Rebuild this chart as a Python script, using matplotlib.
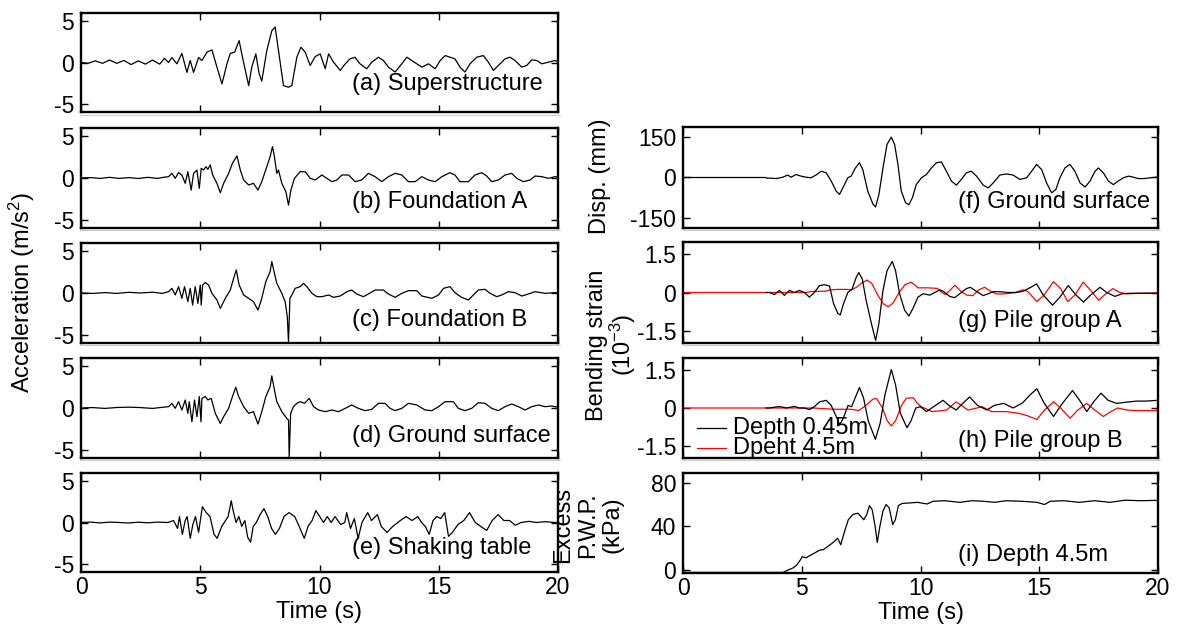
import matplotlib
matplotlib.use("Agg")
import matplotlib.pyplot as plt
from matplotlib.lines import Line2D

plt.rcParams['font.family'] = ['Liberation Sans', 'DejaVu Sans']
plt.rcParams['mathtext.fontset'] = 'custom'
plt.rcParams['mathtext.rm'] = 'Liberation Sans'
plt.rcParams['mathtext.it'] = 'Liberation Sans:italic'
plt.rcParams['axes.unicode_minus'] = False

# ---------------- data (time [s], value) ----------------
superstructure = [(0, 0), (0.3, -0.1), (0.6, 0.2), (0.9, -0.1), (1.2, 0.3), (1.5, -0.1), (1.8, 0.25),
    (2.1, -0.25), (2.4, 0.2), (2.7, -0.2), (3.0, 0.3), (3.3, -0.2), (3.5, 0.5), (3.67, 0.0),
    (3.81, 0.6), (4.02, -0.16), (4.23, 1.1), (4.44, -1.2), (4.58, 0.24), (4.72, -1.2), (4.93, 0.6),
    (5.07, 0.24), (5.28, 1.25), (5.49, 1.53), (5.70, -0.56), (5.91, -2.6), (6.12, -0.16), (6.26, 1.1),
    (6.44, 1.25), (6.63, 2.65), (6.77, 0.64), (7.03, -2.8), (7.16, -0.56), (7.33, 1.04), (7.47, -1.36),
    (7.58, -2.25), (7.79, 1.45), (8.00, 3.85), (8.14, 4.3), (8.28, 1.45), (8.49, -2.8), (8.70, -3.0),
    (8.84, -2.8), (9.05, 0.64), (9.22, 1.85), (9.40, 1.25), (9.61, -0.36), (9.82, 0.72), (10.03, 1.04),
    (10.24, -0.76), (10.38, 1.04), (10.59, 0.04), (10.87, -0.96), (11.08, -0.16), (11.28, 0.44),
    (11.49, 0.64), (11.70, -0.16), (11.98, -0.76), (12.19, 0.04), (12.47, 0.64), (12.68, 0.24),
    (12.89, -0.56), (13.17, -1.16), (13.45, -0.16), (13.66, 0.64), (13.87, 0.24), (14.08, -0.16),
    (14.29, -0.56), (14.57, -0.16), (14.85, -0.76), (15.06, 0.24), (15.27, 0.84), (15.47, 0.64),
    (15.68, 0.44), (15.89, -0.56), (16.10, -1.16), (16.31, -0.16), (16.59, 0.64), (16.87, 0.84),
    (17.08, 0.04), (17.29, -0.96), (17.50, -0.36), (17.78, 0.44), (17.99, 0.64), (18.20, 0.24),
    (18.48, -0.56), (18.69, -0.36), (18.90, 0.32), (19.11, 0.24), (19.32, -0.16), (19.60, 0.04),
    (19.87, 0.24), (20.0, 0.1)]

foundation_a = [(0, 0), (0.4, 0.05), (0.8, -0.05), (1.2, 0.08), (1.6, -0.05), (2.0, 0.05), (2.4, -0.06),
    (2.8, 0.08), (3.2, -0.05), (3.5, 0.1), (3.67, 0.16), (3.81, 0.56), (3.95, -0.04), (4.09, 0.64),
    (4.23, 0.36), (4.37, -0.64), (4.48, 0.76), (4.62, -1.45), (4.72, 0.56), (4.86, 0.96), (4.96, -1.25),
    (5.04, 1.16), (5.14, 0.96), (5.24, 1.36), (5.32, 1.04), (5.42, 1.57), (5.52, 0.36), (5.70, -0.64),
    (5.84, -1.77), (5.98, -0.64), (6.19, 0.56), (6.35, 1.77), (6.54, 2.65), (6.68, 0.96), (6.82, -0.24),
    (7.03, -0.84), (7.23, -0.64), (7.42, -1.45), (7.58, -0.44), (7.79, 1.36), (7.93, 2.57), (8.03, 3.77),
    (8.11, 2.57), (8.21, 0.56), (8.28, 0.96), (8.42, -0.64), (8.59, -1.65), (8.70, -3.25), (8.80, -1.45),
    (8.95, -0.04), (9.19, 0.76), (9.40, 0.76), (9.61, -0.04), (9.82, -0.24), (10.10, 0.36),
    (10.31, -0.04), (10.52, -0.44), (10.73, -0.24), (10.94, 0.36), (11.22, 0.36), (11.49, -0.44),
    (11.77, -0.24), (12.05, 0.56), (12.33, 0.16), (12.61, -0.44), (12.89, 0.16), (13.17, 0.56),
    (13.45, 0.36), (13.73, -0.44), (14.01, -0.44), (14.29, 0.16), (14.57, -0.24), (14.85, -0.44),
    (15.13, 0.16), (15.47, 0.64), (15.68, 0.36), (15.89, -0.44), (16.24, -0.44), (16.52, 0.36),
    (16.80, 0.64), (17.01, 0.24), (17.22, -0.44), (17.50, -0.24), (17.78, 0.36), (18.06, 0.56),
    (18.27, -0.04), (18.55, -0.44), (18.83, -0.24), (19.04, 0.24), (19.32, 0.16), (19.60, -0.04),
    (19.87, 0.16), (20.0, 0.1)]

foundation_b = [(0, 0), (0.5, -0.05), (1.0, 0.05), (1.5, -0.05), (2.0, 0.08), (2.5, 0.0), (3.0, 0.1),
    (3.4, -0.05), (3.67, 0.16), (3.81, 0.56), (3.95, -0.24), (4.09, 0.76), (4.23, -0.64), (4.34, 0.76),
    (4.48, -1.04), (4.58, 0.56), (4.68, -1.45), (4.79, 0.76), (4.90, -1.25), (5.00, 0.96), (5.04, -1.45),
    (5.10, 0.96), (5.21, 1.25), (5.35, 0.96), (5.49, -0.04), (5.70, -0.84), (5.84, -1.85), (6.05, -0.64),
    (6.26, 0.36), (6.40, 1.77), (6.51, 2.77), (6.63, 0.96), (6.82, -0.24), (7.03, -0.64), (7.23, -1.04),
    (7.42, -2.05), (7.56, -0.84), (7.75, 1.37), (7.93, 2.57), (8.00, 3.78), (8.11, 2.37), (8.21, 1.16),
    (8.42, -0.04), (8.56, -1.04), (8.65, -2.85), (8.70, -5.9), (8.76, -0.64), (8.84, -0.24), (8.98, 0.56),
    (9.19, 0.76), (9.33, 1.16), (9.47, 0.76), (9.68, -0.04), (9.89, -0.44), (10.10, -0.44),
    (10.38, -0.24), (10.59, -0.52), (10.87, -0.36), (11.15, 0.16), (11.35, 0.36), (11.56, -0.12),
    (11.84, -0.44), (12.05, -0.12), (12.33, 0.36), (12.68, 0.36), (12.89, -0.12), (13.17, -0.52),
    (13.45, -0.04), (13.73, 0.28), (14.08, 0.28), (14.29, -0.36), (14.71, -0.64), (14.99, -0.24),
    (15.20, 0.56), (15.47, 0.76), (15.68, 0.04), (15.96, -0.52), (16.24, -0.84), (16.45, -0.24),
    (16.66, 0.36), (16.94, 0.44), (17.15, -0.04), (17.43, -0.44), (17.64, -0.24), (17.92, 0.16),
    (18.20, 0.04), (18.48, -0.36), (18.76, -0.12), (19.04, 0.16), (19.46, -0.04), (19.87, 0.04),
    (20.0, 0.0)]

ground_acc = [(0, 0), (0.5, 0.05), (1.0, -0.05), (1.5, 0.06), (2.0, 0.1), (2.5, 0.05), (3.0, -0.05),
    (3.4, 0.08), (3.67, 0.16), (3.81, 0.56), (3.95, -0.04), (4.09, 0.76), (4.23, -0.24), (4.37, 0.96),
    (4.48, -0.64), (4.54, 0.76), (4.65, -1.65), (4.76, 0.96), (4.86, -1.04), (4.96, 1.37), (5.03, -1.65),
    (5.07, 1.16), (5.21, 1.37), (5.32, 0.96), (5.46, 1.16), (5.63, -0.64), (5.84, -1.85), (5.98, -1.04),
    (6.19, -0.04), (6.35, 1.37), (6.49, 2.49), (6.61, 1.37), (6.82, 0.16), (7.03, -0.64), (7.23, -0.44),
    (7.42, -1.93), (7.56, -0.64), (7.75, 1.37), (7.93, 2.57), (8.00, 3.86), (8.11, 2.17), (8.21, 0.76),
    (8.42, -0.44), (8.63, -1.25), (8.70, -1.45), (8.73, -5.9), (8.79, -0.64), (8.91, 0.16), (9.05, 0.56),
    (9.19, 0.76), (9.37, 0.56), (9.57, 1.16), (9.75, 0.16), (9.96, -0.24), (10.24, -0.44),
    (10.52, -0.24), (10.80, -0.44), (11.08, -0.04), (11.35, 0.36), (11.63, -0.04), (11.91, -0.32),
    (12.19, -0.16), (12.47, 0.56), (12.75, 0.56), (12.96, -0.04), (13.17, -0.32), (13.45, -0.04),
    (13.73, 0.56), (14.08, 0.36), (14.43, -0.24), (14.71, -0.32), (14.99, 0.16), (15.27, 0.76),
    (15.61, 0.76), (15.82, -0.04), (16.10, -0.32), (16.38, -0.04), (16.66, 0.64), (16.94, 0.56),
    (17.22, -0.04), (17.50, -0.32), (17.78, 0.16), (18.06, 0.48), (18.34, 0.16), (18.62, -0.24),
    (18.90, 0.16), (19.18, 0.36), (19.46, 0.16), (19.74, 0.24), (19.87, 0.16), (20.0, 0.1)]

shaking_table = [(0, 0), (0.4, 0.05), (0.8, -0.05), (1.2, 0.05), (1.6, 0.0), (2.0, -0.06), (2.4, 0.04),
    (2.8, -0.04), (3.2, 0.05), (3.64, 0.0), (3.88, 0.24), (4.05, -0.72), (4.13, 0.72), (4.25, -1.44),
    (4.37, 0.24), (4.45, 0.72), (4.58, -1.92), (4.69, -0.24), (4.80, 0.72), (4.93, -1.2), (5.09, 1.92),
    (5.25, 1.2), (5.41, 0.72), (5.58, -1.44), (5.71, -1.92), (5.90, -0.48), (6.06, 0.24), (6.17, 0.72),
    (6.30, 2.64), (6.38, 1.44), (6.50, 0.0), (6.62, 0.72), (6.74, -0.48), (6.87, 0.24), (6.99, -1.8),
    (7.11, -2.4), (7.22, -0.48), (7.35, 0.0), (7.51, 0.96), (7.67, 1.68), (7.83, 0.72), (7.99, -0.72),
    (8.15, -1.44), (8.32, -0.72), (8.51, 0.72), (8.72, 1.2), (8.96, 0.72), (9.15, -0.48), (9.36, -1.92),
    (9.52, -0.48), (9.69, 0.24), (9.85, 1.44), (10.01, 0.72), (10.17, 0.0), (10.33, 0.72), (10.49, 0.0),
    (10.65, 0.72), (10.89, -0.24), (11.06, 0.0), (11.14, 1.2), (11.30, -0.72), (11.46, 0.48),
    (11.62, -1.92), (11.78, 0.0), (12.02, 1.2), (12.18, 0.24), (12.43, 0.96), (12.59, -0.48),
    (12.83, -1.2), (13.07, -0.48), (13.39, 0.24), (13.63, 0.72), (13.88, 0.24), (14.12, 0.72),
    (14.28, 0.0), (14.44, -0.48), (14.60, -1.44), (14.76, 0.24), (14.92, 0.72), (15.08, 0.48),
    (15.25, 1.2), (15.41, -1.68), (15.57, -1.2), (15.81, -0.24), (16.05, 0.24), (16.29, 1.2),
    (16.53, 0.0), (16.76, -0.48), (17.01, -0.96), (17.24, 0.24), (17.49, 0.96), (17.73, 0.24),
    (17.97, 0.24), (18.21, -0.34), (18.45, 0.0), (18.78, 0.14), (19.10, 0.0), (19.42, 0.1),
    (19.9, 0.0), (20.0, 0.0)]

ground_disp = [(0, 0), (3.5, 0), (3.55, -3), (3.64, -2), (3.92, -4), (4.20, 1), (4.41, 9), (4.55, 1),
    (4.76, 11), (4.97, 5), (5.18, 1), (5.39, -1), (5.60, 9), (5.82, 23), (6.03, 17), (6.24, -13),
    (6.45, -50), (6.59, -62), (6.73, -38), (6.94, -1), (7.08, 5), (7.26, 35), (7.43, 54), (7.57, 29),
    (7.78, -50), (8.00, -98), (8.11, -108), (8.25, -62), (8.42, 35), (8.59, 121), (8.77, 148),
    (8.91, 121), (9.05, 48), (9.19, -50), (9.37, -92), (9.51, -100), (9.66, -74), (9.82, -26),
    (10.04, -1), (10.25, 11), (10.46, 35), (10.67, 54), (10.88, 57), (11.09, 23), (11.30, -13),
    (11.51, -28), (11.72, -7), (11.93, 17), (12.14, 23), (12.36, 5), (12.64, -28), (12.85, -38),
    (13.06, -20), (13.34, 9), (13.62, 13), (13.90, 9), (14.18, -7), (14.47, -1), (14.68, 23),
    (14.89, 48), (15.10, 29), (15.31, -20), (15.52, -56), (15.70, -44), (15.87, -1), (16.08, 35),
    (16.29, 48), (16.50, 23), (16.72, -20), (16.93, -35), (17.14, -13), (17.35, 23), (17.49, 35),
    (17.70, 17), (17.91, -13), (18.12, -26), (18.33, -13), (18.54, -1), (18.76, 5), (18.97, 1),
    (19.18, -4), (19.40, -4), (19.68, -1), (19.96, 1), (20.0, 2)]

strain_a_shallow = [(3.5, 0.0), (3.64, 0.0), (3.85, -0.08), (4.06, 0.08), (4.27, -0.11), (4.48, 0.08),
    (4.69, 0.0), (4.90, 0.08), (5.11, 0.0), (5.32, -0.18), (5.53, 0.0), (5.75, 0.27), (5.96, 0.3),
    (6.17, 0.25), (6.34, -0.43), (6.52, -0.81), (6.62, -0.87), (6.76, -0.43), (6.94, 0.0), (7.12, 0.13),
    (7.29, 0.58), (7.40, 0.77), (7.55, 0.52), (7.71, -0.3), (7.93, -1.19), (8.11, -1.85), (8.25, -1.19),
    (8.42, 0.08), (8.59, 0.84), (8.81, 1.2), (8.95, 0.84), (9.12, -0.05), (9.33, -0.68), (9.51, -0.91),
    (9.68, -0.62), (9.89, -0.18), (10.11, -0.05), (10.39, -0.1), (10.60, 0.0), (10.81, 0.1),
    (10.95, 0.05), (11.23, -0.15), (11.44, -0.2), (11.65, -0.05), (11.93, 0.15), (12.1, 0.2),
    (12.43, 0.0), (12.64, -0.12), (12.85, -0.05), (13.06, 0.03), (13.34, 0.03), (13.69, 0.0),
    (14.04, 0.0), (14.32, 0.05), (14.54, 0.15), (14.89, 0.33), (15.17, -0.1), (15.56, -0.49),
    (15.87, -0.18), (16.22, 0.27), (16.50, -0.05), (16.86, -0.37), (17.14, -0.12), (17.56, 0.2),
    (17.84, 0.0), (18.19, -0.15), (18.48, -0.05), (18.83, -0.03), (19.25, -0.03), (20.0, -0.03)]

strain_a_deep = [(0, 0), (5.2, 0), (5.4, 0.04), (6.0, 0.05), (6.2, 0.1), (6.5, 0.12), (6.9, 0.12),
    (7.1, 0.1), (7.3, 0.2), (7.5, 0.35), (7.75, 0.48), (7.95, 0.35), (8.2, -0.1), (8.45, -0.45),
    (8.65, -0.55), (8.85, -0.4), (9.1, 0.0), (9.35, 0.3), (9.6, 0.4), (9.75, 0.3), (9.9, 0.18),
    (10.3, 0.18), (10.7, 0.16), (10.9, 0.0), (11.05, -0.08), (11.25, 0.1), (11.45, 0.28), (11.7, 0.05),
    (11.95, -0.1), (12.2, -0.12), (12.45, 0.1), (12.7, 0.2), (12.95, 0.05), (13.2, -0.06),
    (13.6, -0.05), (14.0, 0.0), (14.3, 0.1), (14.5, 0.05), (14.9, -0.35), (15.2, -0.1), (15.6, 0.42),
    (15.9, 0.15), (16.2, -0.35), (16.5, -0.1), (16.85, 0.4), (17.15, 0.1), (17.5, -0.3), (17.8, -0.05),
    (18.1, 0.15), (18.4, 0.0), (18.7, -0.05), (19.2, -0.03), (20.0, -0.02)]

strain_b_shallow = [(3.5, 0.0), (3.64, 0.0), (4.06, 0.06), (4.34, 0.0), (4.69, 0.06), (4.9, 0.0),
    (5.11, 0.0), (5.32, -0.06), (5.53, 0.05), (5.75, 0.24), (6.03, 0.3), (6.24, 0.1), (6.45, -0.33),
    (6.6, -0.65), (6.75, -0.4), (6.95, 0.1), (7.1, 0.05), (7.25, 0.4), (7.43, 0.8), (7.6, 0.4),
    (7.8, -0.5), (8.1, -1.22), (8.3, -0.6), (8.5, 0.5), (8.77, 1.5), (8.95, 0.9), (9.15, -0.2),
    (9.43, -0.77), (9.6, -0.5), (9.8, 0.0), (10.0, 0.05), (10.25, -0.14), (10.55, 0.05), (10.95, 0.3),
    (11.2, 0.1), (11.5, -0.08), (11.8, 0.2), (12.07, 0.43), (12.4, 0.1), (12.8, -0.08), (13.1, 0.1),
    (13.5, 0.18), (13.9, 0.0), (14.3, 0.2), (14.6, 0.5), (14.9, 0.75), (15.2, 0.2), (15.6, -0.33),
    (15.95, 0.15), (16.4, 0.68), (16.7, 0.3), (17.0, -0.14), (17.3, 0.25), (17.6, 0.58), (17.9, 0.3),
    (18.26, 0.18), (18.6, 0.22), (19.1, 0.27), (19.5, 0.27), (20.0, 0.3)]

strain_b_deep = [(0, 0), (5.5, 0), (6.0, -0.03), (6.4, -0.05), (6.8, -0.05), (7.1, -0.05), (7.4, -0.1),
    (7.7, 0.1), (8.0, 0.35), (8.15, 0.37), (8.4, 0.0), (8.6, -0.5), (8.77, -0.7), (8.95, -0.5),
    (9.2, 0.1), (9.4, 0.38), (9.7, 0.4), (9.85, 0.2), (10.03, 0.05), (10.5, -0.14), (11.1, -0.08),
    (11.5, 0.24), (12.0, -0.08), (12.6, 0.05), (13.0, -0.14), (13.6, -0.14), (14.1, -0.2),
    (14.5, -0.3), (14.9, -0.45), (15.2, -0.1), (15.6, 0.24), (15.9, 0.0), (16.3, -0.4), (16.6, -0.1),
    (17.0, 0.18), (17.3, -0.05), (17.7, -0.33), (18.0, -0.15), (18.3, 0.0), (18.7, -0.08),
    (19.1, -0.1), (19.6, -0.1), (20.0, -0.1)]

epwp = [(0, -2.5), (4.21, -2.5), (4.45, 0), (4.62, 1.5), (4.78, 4), (4.94, 9), (5.02, 12), (5.18, 11),
    (5.34, 13), (5.59, 16), (5.75, 18), (5.91, 18.5), (6.07, 21), (6.32, 25), (6.51, 29), (6.64, 23),
    (6.80, 35), (6.96, 46), (7.16, 51), (7.37, 52), (7.61, 46), (7.74, 51), (7.85, 59), (7.97, 55),
    (8.09, 40), (8.18, 25), (8.29, 40), (8.42, 54), (8.55, 60), (8.68, 57), (8.83, 41.5), (8.94, 46),
    (9.07, 59), (9.23, 61), (9.56, 61.5), (9.88, 62), (10.28, 60.5), (10.53, 63), (11.0, 63.5),
    (11.66, 62), (12.15, 63.5), (12.64, 63), (13.12, 62), (13.6, 63.5), (14.25, 63), (14.9, 62),
    (15.22, 60), (15.47, 63), (16.03, 63.5), (16.68, 62), (17.33, 63.5), (17.98, 62), (18.62, 64),
    (19.27, 63.5), (19.9, 63.8), (20.0, 63.5)]

left_titles = ['(a) Superstructure', '(b) Foundation A', '(c) Foundation B',
               '(d) Ground surface', '(e) Shaking table']
right_titles = ['(f) Ground surface', '(g) Pile group A', '(h) Pile group B', '(i) Depth 4.5m']
legend_labels = ['Depth 0.45m', 'Dpeht 4.5m']

# ---------------- layout ----------------
W, H = 1182, 633
fig = plt.figure(figsize=(W / 100, H / 100), dpi=100)


def add_ax(l, t, r, b):
    return fig.add_axes([l / W, 1 - b / H, (r - l) / W, (b - t) / H])


FS = 17
TFS = 16.5
LW = 0.9


def style(ax, show_x):
    ax.set_xlim(0, 20)
    ax.set_xticks([0, 5, 10, 15, 20])
    ax.tick_params(direction='in', top=True, right=True, length=5, width=1,
                   labelsize=TFS, labelbottom=show_x)
    ax.tick_params(axis='y', pad=5)
    ax.tick_params(axis='x', pad=3)
    for s in ax.spines.values():
        s.set_linewidth(1.7)


def xy(series):
    return [p[0] for p in series], [p[1] for p in series]


left_rows = [(13, 112), (128, 228), (243, 343), (358, 458), (473, 572)]
left_series = [superstructure, foundation_a, foundation_b, ground_acc, shaking_table]
left_ty = [0.28, 0.26, 0.23, 0.22, 0.24]
for i, ((t, b), ser, title, ty) in enumerate(zip(left_rows, left_series, left_titles, left_ty)):
    ax = add_ax(81, t, 558, b)
    x, y = xy(ser)
    ax.plot(x, y, color='black', lw=LW)
    ax.set_ylim(-6, 6)
    ax.set_yticks([-5, 0, 5])
    style(ax, i == 4)
    ax.text(0.568, ty, title, transform=ax.transAxes, fontsize=FS, ha='left', va='center')
    if i == 4:
        ax.set_xlabel('Time (s)', fontsize=FS, labelpad=1)

right_ty = [0.26, 0.22, 0.17, 0.18]

# (f)
ax = add_ax(683, 127, 1158, 228)
x, y = xy(ground_disp)
ax.plot(x, y, color='black', lw=LW)
ax.set_ylim(-185, 185)
ax.set_yticks([-150, 0, 150])
style(ax, False)
ax.text(0.579, right_ty[0], right_titles[0], transform=ax.transAxes, fontsize=FS, ha='left', va='center')

# (g)
ax = add_ax(683, 242, 1158, 343)
x, y = xy(strain_a_deep)
ax.plot(x, y, color='red', lw=LW)
x, y = xy(strain_a_shallow)
ax.plot(x, y, color='black', lw=LW)
ax.set_ylim(-1.95, 1.95)
ax.set_yticks([-1.5, 0, 1.5])
ax.set_yticklabels(['-1.5', '0', '1.5'])
style(ax, False)
ax.text(0.579, right_ty[1], right_titles[1], transform=ax.transAxes, fontsize=FS, ha='left', va='center')

# (h)
ax = add_ax(683, 358, 1158, 458)
x, y = xy(strain_b_deep)
ax.plot(x, y, color='red', lw=LW)
x, y = xy(strain_b_shallow)
ax.plot(x, y, color='black', lw=LW)
ax.set_ylim(-1.95, 1.95)
ax.set_yticks([-1.5, 0, 1.5])
ax.set_yticklabels(['-1.5', '0', '1.5'])
style(ax, False)
ax.text(0.579, right_ty[2], right_titles[2], transform=ax.transAxes, fontsize=FS, ha='left', va='center')
# legend (no frame), rows tightly spaced as in the source
for (ly, col, lab) in ((0.30, 'black', legend_labels[0]), (0.10, 'red', legend_labels[1])):
    ax.plot([0.029, 0.09], [ly, ly], color=col, lw=LW, transform=ax.transAxes, clip_on=False)
    ax.text(0.105, ly, lab, transform=ax.transAxes, fontsize=FS, ha='left', va='center')

# (i)
ax = add_ax(683, 473, 1158, 573)
x, y = xy(epwp)
ax.plot(x, y, color='black', lw=LW)
ax.set_ylim(-3, 89)
ax.set_yticks([0, 40, 80])
style(ax, True)
ax.set_xlabel('Time (s)', fontsize=FS, labelpad=1)
ax.text(0.579, right_ty[3], right_titles[3], transform=ax.transAxes, fontsize=FS, ha='left', va='center')

# ---------------- axis titles ----------------
fig.text(22 / W, 1 - 292 / H, 'Acceleration (m/s$^2$)', rotation=90, ha='center', va='center', fontsize=FS)
fig.text(600 / W, 1 - 176 / H, 'Disp. (mm)', rotation=90, ha='center', va='center', fontsize=FS)
fig.text(612 / W, 1 - 345 / H, 'Bending strain\n(10$^{-3}$)', rotation=90, ha='center', va='center',
         fontsize=FS, multialignment='center', linespacing=0.95)
fig.text(588 / W, 1 - 525 / H, 'Excess\nP.W.P.\n(kPa)', rotation=90, ha='center', va='center',
         fontsize=FS, multialignment='center', linespacing=1.15)

# faint separator lines present in the source image
for yy in (115, 230, 345, 460):
    fig.add_artist(Line2D([80 / W, 560 / W], [1 - yy / H, 1 - yy / H], color='#cccccc', lw=0.8))
for yy in (230, 345, 460):
    fig.add_artist(Line2D([683 / W, 1160 / W], [1 - yy / H, 1 - yy / H], color='#cccccc', lw=0.8))

fig.savefig('out.png', dpi=100)
